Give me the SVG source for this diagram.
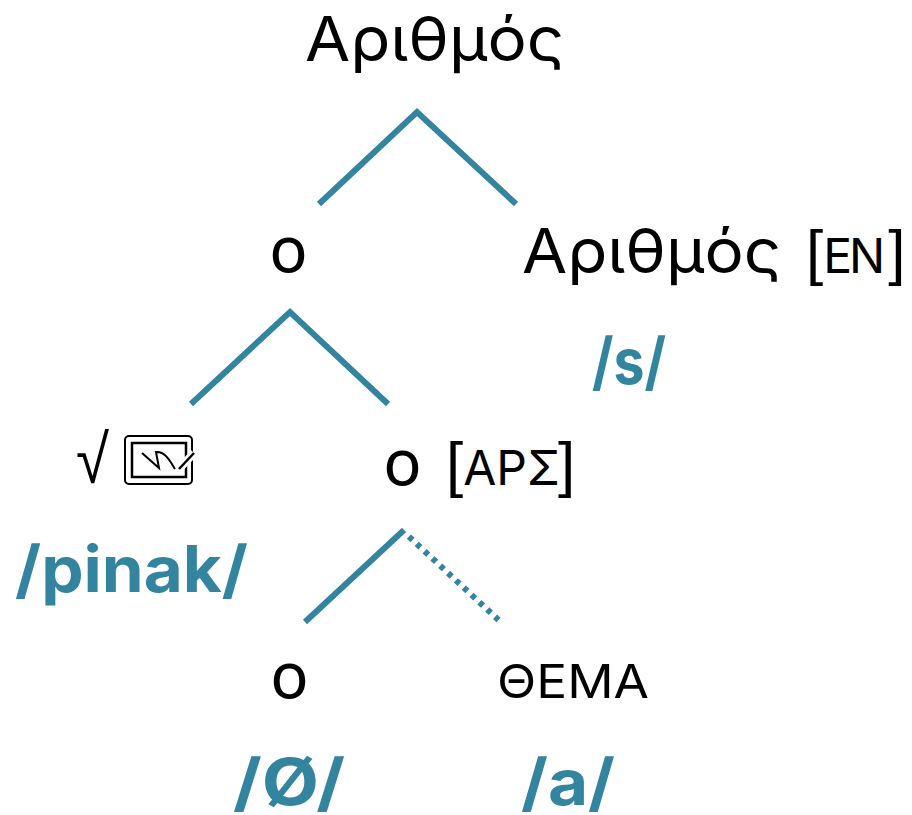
<svg xmlns="http://www.w3.org/2000/svg" width="912" height="815" viewBox="0 0 912 815">
<style>
text{font-family:Inter,"Liberation Sans",sans-serif;fill:#000}
.t{font-size:62px}
.o{font-family:Lato,"Liberation Sans",sans-serif;font-size:70px}
.b{font-family:"Liberation Sans",sans-serif;font-size:62px}
.c{font-size:48px}
.m{font-weight:700;fill:#33849e;font-size:64px}
.l{fill:none;stroke:#33849e;stroke-width:6}
.i{fill:none;stroke:#000}
</style>
<rect width="912" height="815" fill="#fff"/>
<g id="connectors">
<path class="l" d="M319 204L417 112L516 204"/>
<path class="l" d="M191 404L290 312L388 404"/>
<path class="l" d="M305 622L404 530"/>
<path class="l" d="M408.900 536.600L498.500 620" stroke-dasharray="5 5.700"/>
</g>
<g id="n-root"><text class="t" x="305" y="61" textLength="259" lengthAdjust="spacingAndGlyphs">Αριθμός</text></g>
<g id="n-o1"><text class="o" x="270" y="273" textLength="37" lengthAdjust="spacingAndGlyphs">ο</text></g>
<g id="n-num"><text class="t" x="522" y="273" textLength="259" lengthAdjust="spacingAndGlyphs">Αριθμός</text>
<text x="806" y="273"><tspan class="b">[</tspan><tspan class="c" letter-spacing="-3">ΕΝ</tspan><tspan class="b" dx="6">]</tspan></text>
<text class="m" x="592" y="384" textLength="74" lengthAdjust="spacingAndGlyphs">/s/</text></g>
<g id="n-root2"><text x="76" y="483" style="font-family:'Noto Sans',sans-serif" font-size="68" textLength="33" lengthAdjust="spacingAndGlyphs">√</text>
<rect class="i" x="125" y="436" width="67" height="48" rx="4" stroke-width="2"/>
<rect class="i" x="132" y="443" width="54" height="34" stroke-width="2.500"/>
<path class="i" stroke-width="2" d="M142 453L159 468L156 452C165 451 170 461 175 469"/>
<path d="M179 469L194 453" fill="none" stroke="#fff" stroke-width="8"/>
<path class="i" stroke-width="2.500" d="M179 469L194 453"/>
<text class="m" x="15" y="592" textLength="233" lengthAdjust="spacingAndGlyphs">/pinak/</text></g>
<g id="n-o2"><text class="o" x="384" y="486" textLength="37" lengthAdjust="spacingAndGlyphs">ο</text>
<text x="446" y="485"><tspan class="b">[</tspan><tspan class="c">ΑΡΣ</tspan><tspan class="b" dx="-2">]</tspan></text></g>
<g id="n-o3"><text class="o" x="271" y="699" textLength="37" lengthAdjust="spacingAndGlyphs">ο</text>
<text class="m" x="233" y="805" textLength="112" lengthAdjust="spacingAndGlyphs">/Ø/</text></g>
<g id="n-theme"><text x="497" y="698" font-size="47" textLength="152" lengthAdjust="spacingAndGlyphs">ΘΕΜΑ</text>
<text class="m" x="521" y="805" textLength="94" lengthAdjust="spacingAndGlyphs">/a/</text></g>
</svg>
